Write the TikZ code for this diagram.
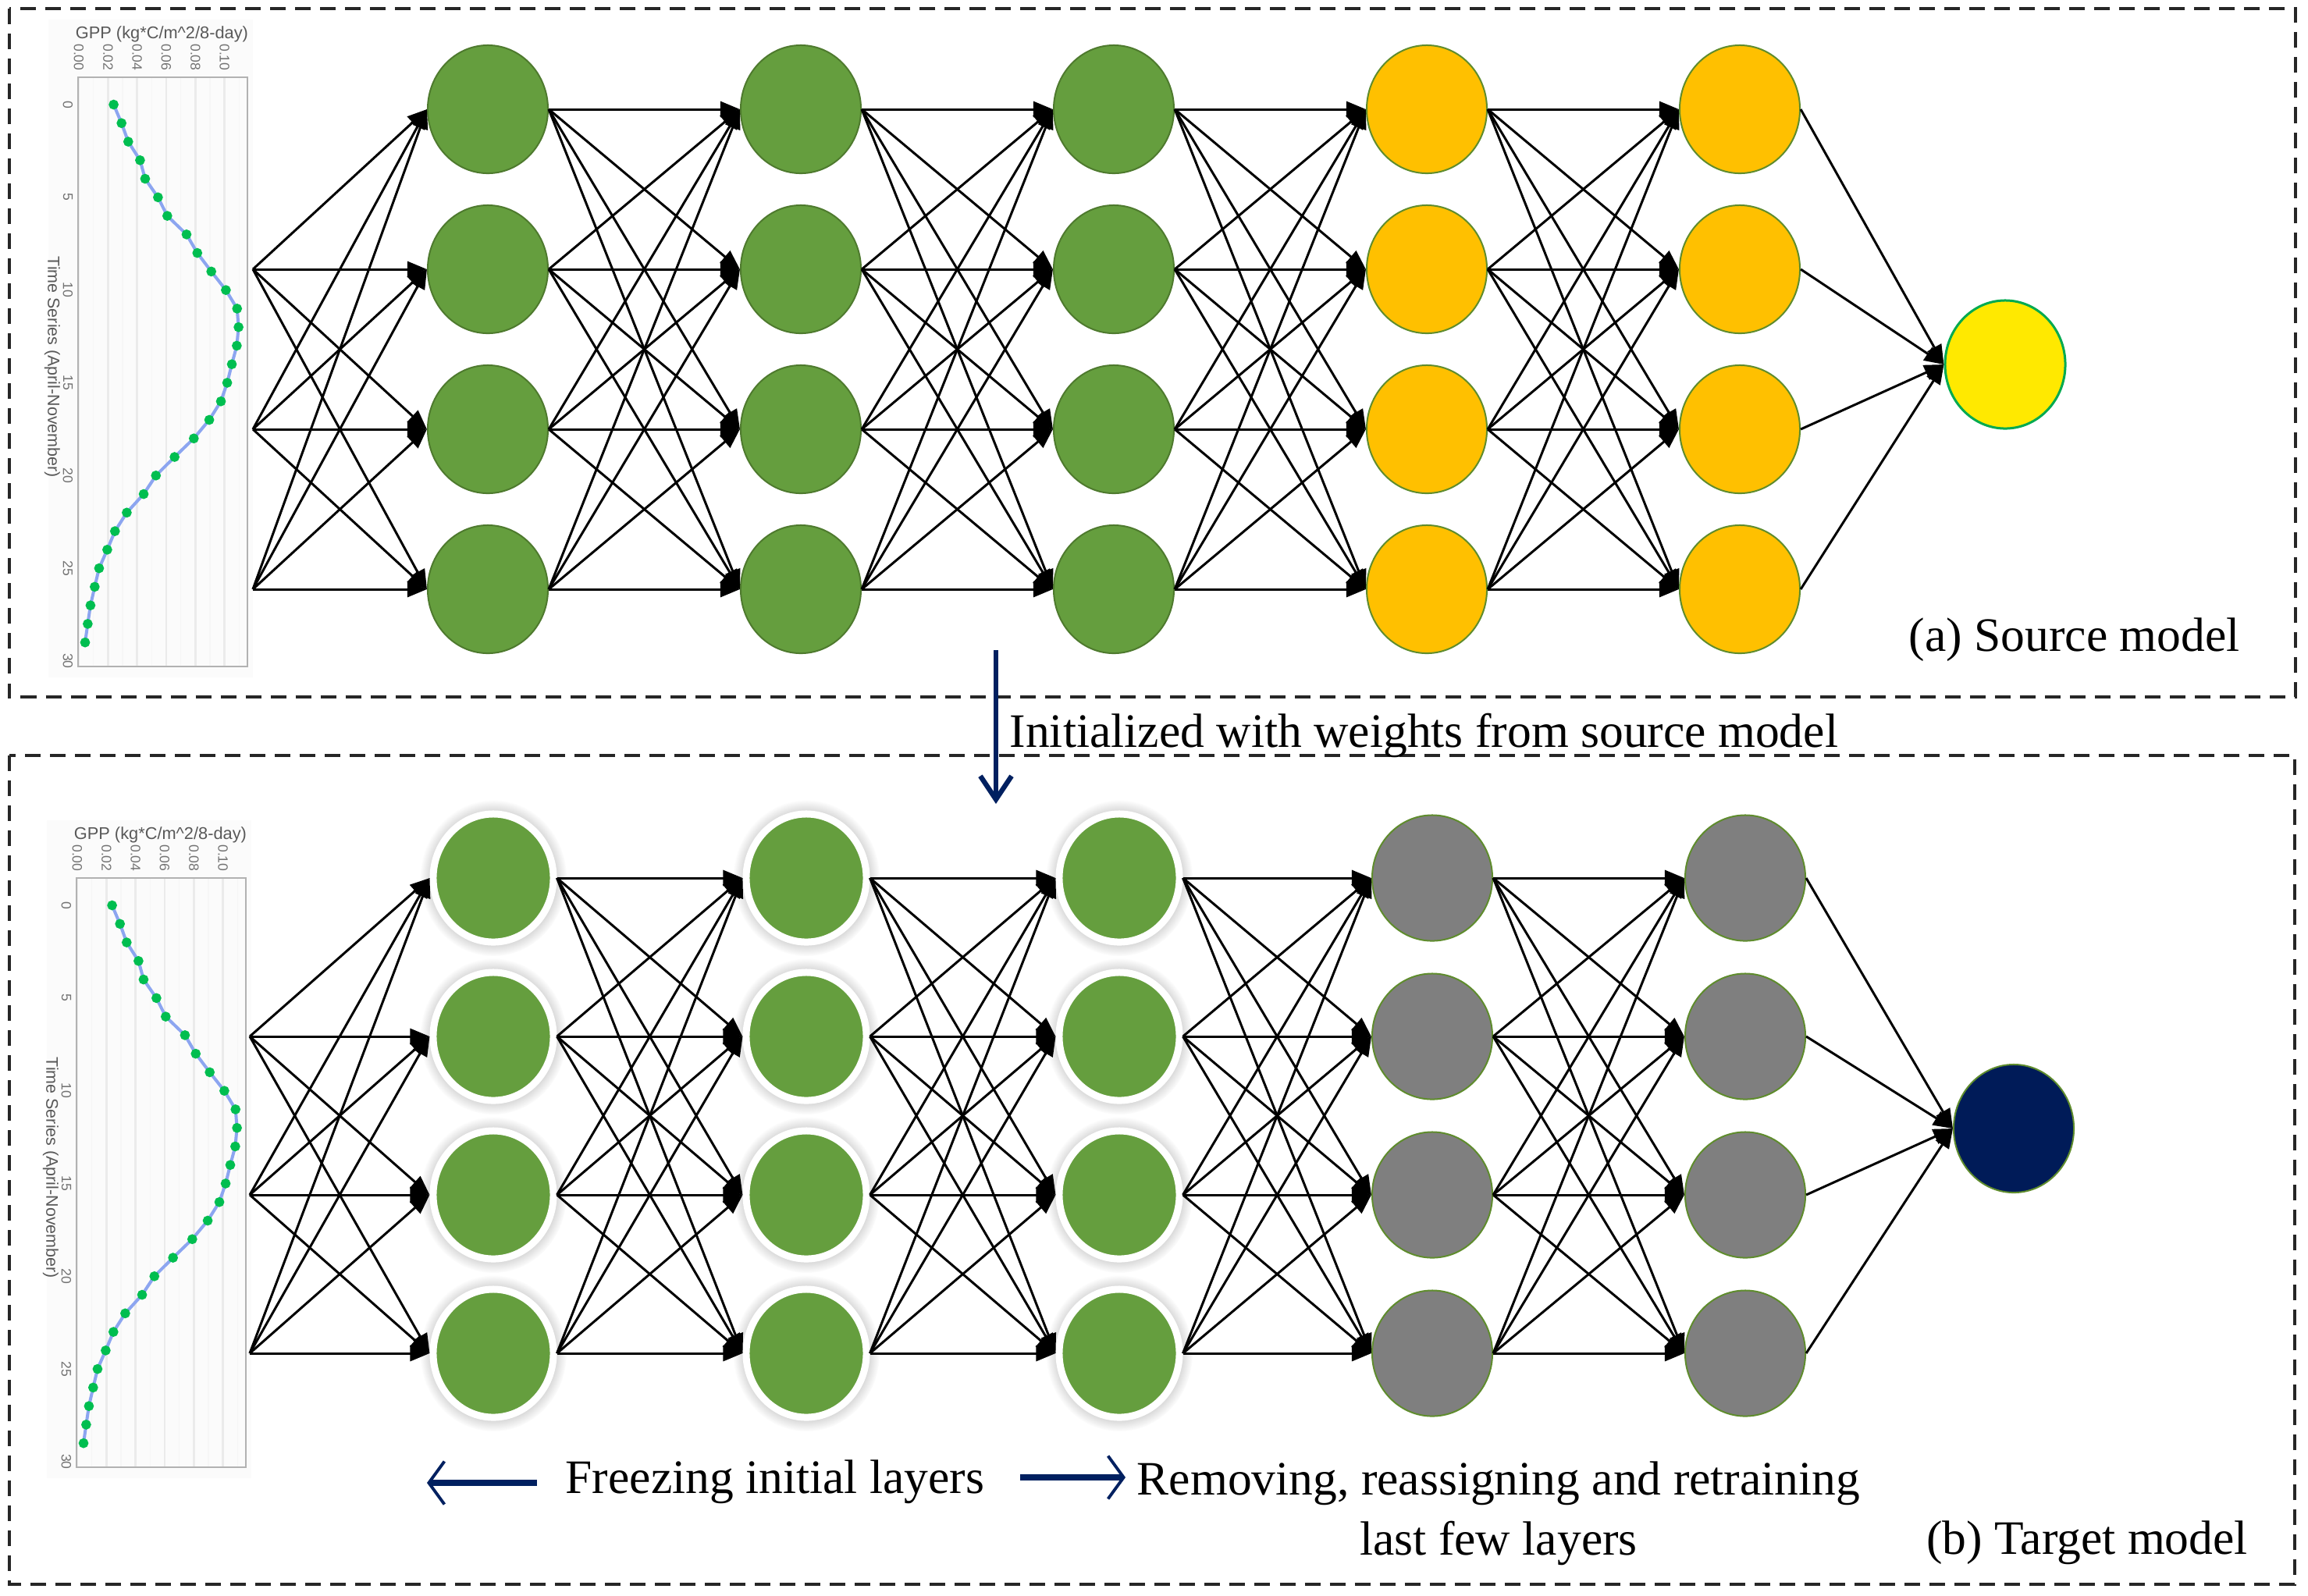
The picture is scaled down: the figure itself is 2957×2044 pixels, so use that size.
\documentclass[tikz,border=0pt]{standalone}
\usepackage{fontspec}
\setmainfont{Liberation Serif}
\setsansfont{Liberation Sans}
\usepackage{tikz}
\usetikzlibrary{arrows.meta}
\usetikzlibrary{shapes.geometric}
\usetikzlibrary{fadings,shadows}

\definecolor{layergreen}{RGB}{101,158,62}
\definecolor{rimdark}{RGB}{78,122,46}
\definecolor{rimgreen}{RGB}{95,140,45}
\definecolor{layergold}{RGB}{255,192,0}
\definecolor{outyellow}{RGB}{255,233,0}
\definecolor{outgreen}{RGB}{0,170,80}
\definecolor{layergray}{RGB}{127,127,127}
\definecolor{outnavy}{RGB}{0,27,88}
\definecolor{arrownavy}{RGB}{0,32,96}
\definecolor{gppblue}{RGB}{140,165,240}
\definecolor{gppdot}{RGB}{0,190,80}

\newcommand{\gppchart}[1]{%
  \fill[gray!3] (-0.0210,-4.6) rectangle (0.1195,30.9);
  \foreach \g in {0.01,0.03,0.05,0.07,0.09,0.11}
    \draw[gray!7, line width=0.015cm] (\g,-1.47) -- (\g,30.3);
  \foreach \g in {0,0.02,0.04,0.06,0.08,0.10}
    \draw[gray!16, line width=0.025cm] (\g,-1.47) -- (\g,30.3);
  \draw[gray!60, line width=0.025cm] (-0.0005,-1.47) rectangle (0.1158,30.3);
  \draw[gppblue, line width=0.04cm] plot[mark=*, mark size=1.2pt, mark options={draw=gppdot, fill=gppdot}] coordinates {
    (0.0239,0) (0.0293,1) (0.0339,2) (0.0420,3) (0.0455,4) (0.0543,5)
    (0.0607,6) (0.0739,7) (0.0813,8) (0.0909,9) (0.1009,10) (0.1086,11)
    (0.1096,12) (0.1084,13) (0.1050,14) (0.1018,15) (0.0975,16) (0.0895,17)
    (0.0789,18) (0.0657,19) (0.0529,20) (0.0445,21) (0.0329,22) (0.0248,23)
    (0.0195,24) (0.0139,25) (0.0109,26) (0.0080,27) (0.0061,28) (0.0043,29)};
  \node[gpptitle] (#1-title) at (0.057,-3.8) {GPP (kg*C/m\textasciicircum 2/8-day)};
  \foreach \g/\v in {0/0.00,0.02/0.02,0.04/0.04,0.06/0.06,0.08/0.08,0.10/0.10}
    \node[gpptick, rotate=-90] (#1-gpp-\v) at (\g,-2.55) {\v};
  \foreach \t in {0,5,...,30}
    \node[gpptick, rotate=-90] (#1-time-\t) at (-0.0075,\t) {\t};
  \node[gpplabel, rotate=-90] (#1-axis) at (-0.0182,14.15) {Time Series (April-November)};
}

\begin{document}
\begin{tikzpicture}[x=0.01cm, y=-0.01cm,
    lbl/.style={font=\fontsize{17.5}{21.9}\selectfont, inner sep=0pt},
    gpptitle/.style={font=\sffamily\fontsize{6.2}{7}\selectfont, text=black!65, inner sep=0pt},
    gpptick/.style={font=\sffamily\fontsize{5}{6}\selectfont, text=black!55, inner sep=0pt},
    gpplabel/.style={font=\sffamily\fontsize{6.1}{7}\selectfont, text=black!65, inner sep=0pt},
    dashbox/.style={draw=black!85, line width=0.04cm, dash pattern=on 0.2cm off 0.12cm},
    conn/.style={line width=0.03cm, -{Triangle[length=0.25cm, width=0.2cm]}},
    navyarrow/.style={draw=arrownavy, line width=0.08cm, -{Straight Barb[length=0.2cm, width=0.55cm, line width=1.1pt]}},
    downarrow/.style={draw=arrownavy, line width=0.055cm, -{Straight Barb[length=0.3cm, width=0.4cm, line width=1.8pt]}},
    neuron/.style={ellipse, inner sep=0pt, minimum width=1.54cm, minimum height=1.64cm, line width=0.02cm},
    greennode/.style={neuron, fill=layergreen, draw=rimdark},
    goldnode/.style={neuron, fill=layergold, draw=rimgreen},
    yellownode/.style={neuron, fill=outyellow, draw=outgreen, line width=0.03cm},
    frozennode/.style={neuron, fill=layergreen, draw=white, line width=0.09cm,
      circular glow={fill=black!50, opacity=0.3, shadow scale=1.22, path fading={circle with fuzzy edge 15 percent}}},
    graynode/.style={neuron, fill=layergray, draw=rimgreen, minimum height=1.61cm},
    navynode/.style={neuron, fill=outnavy, draw=rimgreen}]
    \path[use as bounding box, fill=white] (0,0) rectangle (2957,2044);
    \draw[dashbox] (12,11) rectangle (2941,893);
    \draw[dashbox] (12,968) rectangle (2940,2030);

    \begin{scope}[shift={(101,134)}, x=18.66cm, y=-0.2375cm]
      \gppchart{src}
    \end{scope}
    \begin{scope}[shift={(99,1160)}, x=18.66cm, y=-0.2375cm]
      \gppchart{tgt}
    \end{scope}

    \foreach \l/\sty in {1/greennode,2/greennode,3/greennode,4/goldnode,5/goldnode}
      \foreach \r in {1,...,4}
        \node[\sty] (s-\l-\r) at ({625+401*(\l-1)},{140+205*(\r-1)}) {};
    \node[yellownode] (s-out) at (2569,467) {};
    \foreach \i in {1,2,3}
      \coordinate (s-in-\i) at (324,{140+205*\i});
    \foreach \i in {1,2,3}
      \foreach \q in {1,...,4}
        \draw[conn] (s-in-\i) -- (s-1-\q.west);
    \foreach \l/\n in {1/2,2/3,3/4,4/5}
      \foreach \r in {1,...,4}
        \foreach \q in {1,...,4}
          \draw[conn] (s-\l-\r.east) -- (s-\n-\q.west);
    \foreach \r in {1,...,4}
      \draw[conn] (s-5-\r.east) -- (s-out.west);

    \foreach \l/\sty in {1/frozennode,2/frozennode,3/frozennode,4/graynode,5/graynode}
      \foreach \r in {1,...,4}
        \node[\sty] (t-\l-\r) at ({632+401*(\l-1)},{1125+203*(\r-1)}) {};
    \node[navynode] (t-out) at (2580,1446) {};
    \foreach \i in {1,2,3}
      \coordinate (t-in-\i) at (320,{1125+203*\i});
    \foreach \i in {1,2,3}
      \foreach \q in {1,...,4}
        \draw[conn] (t-in-\i) -- (t-1-\q.west);
    \foreach \l/\n in {1/2,2/3,3/4,4/5}
      \foreach \r in {1,...,4}
        \foreach \q in {1,...,4}
          \draw[conn] (t-\l-\r.east) -- (t-\n-\q.west);
    \foreach \r in {1,...,4}
      \draw[conn] (t-5-\r.east) -- (t-out.west);

    \node[lbl, anchor=base west] (src-cap) at (2445,834) {(a) Source model};
    \node[lbl, anchor=base] (tgt-cap) at (2674,1991) {(b) Target model};
    \node[lbl, anchor=base west] (init-lbl) at (1293,957) {Initialized with weights from source model};
    \node[lbl, anchor=base] (freeze-lbl) at (993,1913) {Freezing initial layers};
    \node[lbl, anchor=base, align=center] (retrain-lbl) at (1920,1992) {Removing, reassigning and retraining\\last few layers};

    \coordinate (init-a) at (1276,833);
    \coordinate (init-b) at (1276,1030);
    \draw[downarrow] (init-a) -- (init-b);
    \coordinate (freeze-a) at (688,1900);
    \coordinate (freeze-b) at (547,1900);
    \draw[navyarrow] (freeze-a) -- (freeze-b);
    \coordinate (retrain-a) at (1307,1893);
    \coordinate (retrain-b) at (1442,1893);
    \draw[navyarrow] (retrain-a) -- (retrain-b);
\end{tikzpicture}
\end{document}
